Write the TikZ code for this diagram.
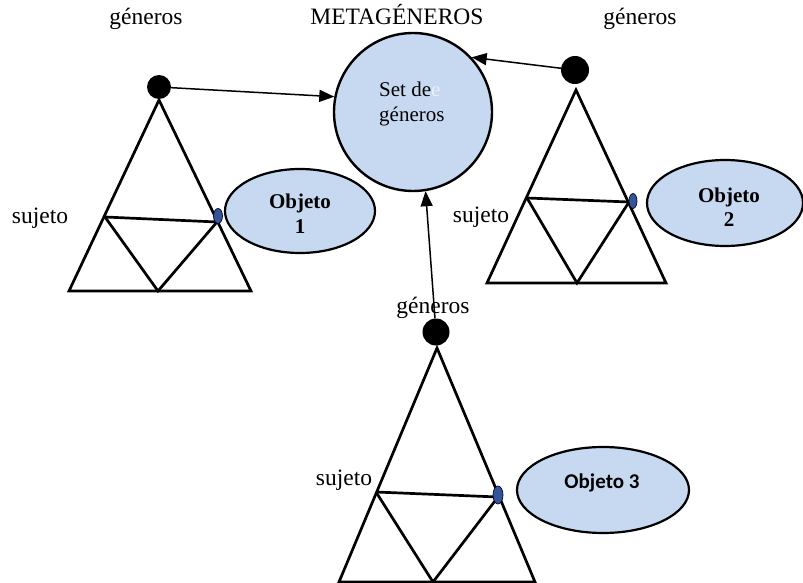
\documentclass[tikz,border=0pt]{standalone}
\usepackage{fontspec}
\setmainfont{Liberation Serif}
\newfontfamily\objsans{Carlito}
\usetikzlibrary{arrows.meta,shapes.geometric}
\definecolor{lblue}{RGB}{198,217,240}
\definecolor{dblue}{RGB}{52,86,150}
\begin{document}
\begin{tikzpicture}[x=1pt,y=-1pt,
  tri/.style={line width=2.7pt,line join=miter},
  arr/.style={line width=1.5pt,-{Triangle[length=15pt,width=12pt]}},
  dot/.style={circle,fill=black,inner sep=0pt},
  tiny/.style={ellipse,fill=dblue,draw=black!80!blue,line width=0.7pt,inner sep=0pt},
  obj/.style={ellipse,fill=lblue,draw=black,line width=2.2pt,inner sep=0pt},
  lbl/.style={anchor=base,inner sep=0pt,font=\fontsize{23.5}{28}\selectfont}]
\useasboundingbox (0,0) rectangle (803,583);

% central circle
\node[circle,fill=lblue,draw=black,line width=2.4pt,minimum size=158pt,inner sep=0pt] (set) at (413,112) {};
\node[anchor=base west,inner sep=0pt,font=\fontsize{21}{25}\selectfont] (setA) at (379,97) {Set de\textcolor{lblue!40!white}{e}};
\node[anchor=base west,inner sep=0pt,font=\fontsize{21}{25}\selectfont] (setB) at (379,122) {géneros};

% triangle 1
\coordinate (a1) at (159,100); \coordinate (bl1) at (69,291); \coordinate (br1) at (251,291);
\coordinate (bm1) at (158,291); \coordinate (ml1) at (105,217); \coordinate (mr1) at (217,222);
\draw[tri] (a1) -- (bl1) -- (br1) -- cycle;
\draw[tri] (ml1) -- (mr1);
\draw[tri] (ml1) -- (bm1) -- (mr1);
\node[dot,minimum size=24pt] (d1) at (159,87) {};
\node[tiny,minimum width=9pt,minimum height=15pt] (s1) at (218,216) {};
\node[obj,minimum width=150pt,minimum height=84pt] (o1) at (300,211) {};
\node[anchor=base,inner sep=0pt,font=\fontsize{21}{25}\selectfont\bfseries] (o1a) at (300,208) {Objeto};
\node[anchor=base,inner sep=0pt,font=\fontsize{21}{25}\selectfont\bfseries] (o1b) at (300,233) {1};

% triangle 2
\coordinate (a2) at (576,90); \coordinate (bl2) at (487,283); \coordinate (br2) at (666,283);
\coordinate (bm2) at (577,283); \coordinate (ml2) at (527,198); \coordinate (mr2) at (629,202);
\draw[tri] (a2) -- (bl2) -- (br2) -- cycle;
\draw[tri] (ml2) -- (mr2);
\draw[tri] (ml2) -- (bm2) -- (mr2);
\node[dot,minimum size=28pt] (d2) at (575,70) {};
\node[tiny,minimum width=8pt,minimum height=15pt] (s2) at (633,201) {};
\node[obj,minimum width=156pt,minimum height=86pt] (o2) at (725,203) {};
\node[anchor=base,inner sep=0pt,font=\fontsize{21}{25}\selectfont\bfseries] (o2a) at (729,202) {Objeto};
\node[anchor=base,inner sep=0pt,font=\fontsize{21}{25}\selectfont\bfseries] (o2b) at (729,226) {2};

% triangle 3
\coordinate (a3) at (437,348); \coordinate (bl3) at (339,582); \coordinate (br3) at (535,582);
\coordinate (bm3) at (433,582); \coordinate (ml3) at (376,492); \coordinate (mr3) at (498,497);
\draw[tri] (a3) -- (bl3) -- (br3) -- cycle;
\draw[tri] (ml3) -- (mr3);
\draw[tri] (ml3) -- (bm3) -- (mr3);
\node[dot,minimum size=27pt] (d3) at (436,332) {};
\node[tiny,minimum width=10pt,minimum height=18pt] (s3) at (498,495) {};
\node[obj,minimum width=172pt,minimum height=86pt] (o3) at (603,490) {};
\node[anchor=base,inner sep=0pt,font=\objsans\fontsize{21}{25}\selectfont\bfseries] (o3a) at (602,488) {Objeto 3};

% labels
\node[lbl] (g1) at (146,25) {géneros};
\node[lbl] (meta) at (397,25) {METAGÉNEROS};
\node[lbl] (g2) at (640,25) {géneros};
\node[lbl] (su1) at (40,223) {sujeto};
\node[lbl] (su2) at (481,222) {sujeto};
\node[lbl] (g3) at (433,313) {géneros};
\node[lbl] (su3) at (344,485) {sujeto};

% arrows
\draw[arr] (d1) -- (set.169);
\draw[arr] (d2) -- (set.43);
\draw[arr] (d3) -- (set.279);
\end{tikzpicture}
\end{document}
